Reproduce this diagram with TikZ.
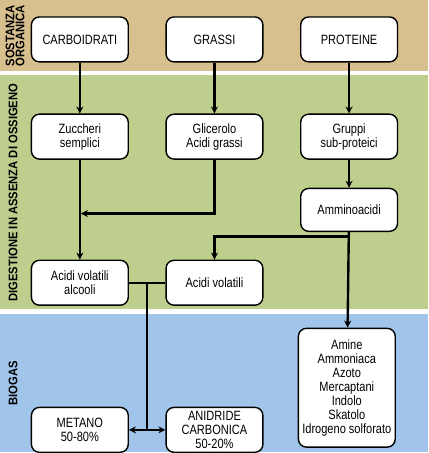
\documentclass[tikz,border=0pt]{standalone}
\usepackage{fontspec}
\setmainfont{Liberation Sans}[FakeStretch=0.82]
\newfontfamily\sidefont{Liberation Sans}[FakeStretch=0.9]
\usetikzlibrary{positioning, arrows.meta, calc}

\definecolor{bandtan}{RGB}{216,191,142}
\definecolor{bandgreen}{RGB}{190,206,141}
\definecolor{bandblue}{RGB}{160,196,234}

\tikzset{
  box/.style={draw, line width=1.4pt, rounded corners=8pt, fill=white,
    minimum width=97pt, minimum height=45pt, align=center,
    font=\fontsize{13.5}{14}\selectfont, inner sep=2pt},
  side/.style={rotate=90, align=center, font=\sidefont\bfseries\fontsize{12.5}{10}\selectfont},
  link/.style={line width=2.4pt},
  arr/.style={link, -{Stealth[length=7pt,width=7pt]}},
}

\begin{document}
\begin{tikzpicture}[x=1pt, y=-1pt]
% bands
\fill[white] (0,0) rectangle (429,453);
\fill[bandtan] (0,0) rectangle (429,71);
\fill[bandgreen] (0,75) rectangle (429,310);
\fill[bandblue] (0,315) rectangle (429,453);

\node[side] (lab1) at (15,36) {SOSTANZA\\ORGANICA};
\node[side] (lab2) at (13,193) {DIGESTIONE IN ASSENZA DI OSSIGENO};
\node[side] (lab3) at (13,384) {BIOGAS};

% sostanza organica
\node[box] (carbo) at (80,39.5) {CARBOIDRATI};
\node[box] (grassi) [right=36.5pt of carbo] {GRASSI};
\node[box] (prot) [right=36.5pt of grassi] {PROTEINE};

% digestione
\node[box] (zucch) [below=51pt of carbo] {Zuccheri\\semplici};
\node[box] (glic) [below=51pt of grassi] {Glicerolo\\Acidi grassi};
\node[box] (grup) [below=51pt of prot] {Gruppi\\sub-proteici};
\node[box, minimum height=43pt] (ammino) [below=28pt of grup] {Amminoacidi};
\node[box] (acalc) [below=100pt of zucch] {Acidi volatili\\alcooli};
\node[box] (acvol) [below=100pt of glic] {Acidi volatili};

% biogas
\node[box] (metano) [below=101pt of acalc] {METANO\\50-80\%};
\node[box] (anid) [below=101pt of acvol] {ANIDRIDE\\CARBONICA\\50-20\%};
\node[box, minimum height=119pt] (amine) at (347.5,388.5) {Amine\\Ammoniaca\\Azoto\\Mercaptani\\Indolo\\Skatolo\\Idrogeno solforato};

\coordinate (j1) at (zucch.south |- 0,214);
\coordinate (j2) at (ammino.south |- 0,237);
\coordinate (j3) at (147,0 |- acalc.east);
\coordinate (j4) at (147,0 |- metano.east);

\draw[arr] (carbo) -- (zucch);
\draw[arr] (grassi) -- (glic);
\draw[arr] (prot) -- (grup);
\draw[arr] (grup) -- (ammino);
\draw[arr] (zucch) -- (acalc);
\draw[arr] (glic.south) |- ([xshift=1pt]j1);
\draw[arr] (ammino) -- (amine);
\draw[arr] (j2) -| (acvol.north);
\draw[link] (acalc) -- (acvol);
\draw[link] (j3) -- (j4);
\draw[arr] (j4) -- (metano);
\draw[arr] (j4) -- (anid);
\end{tikzpicture}
\end{document}
